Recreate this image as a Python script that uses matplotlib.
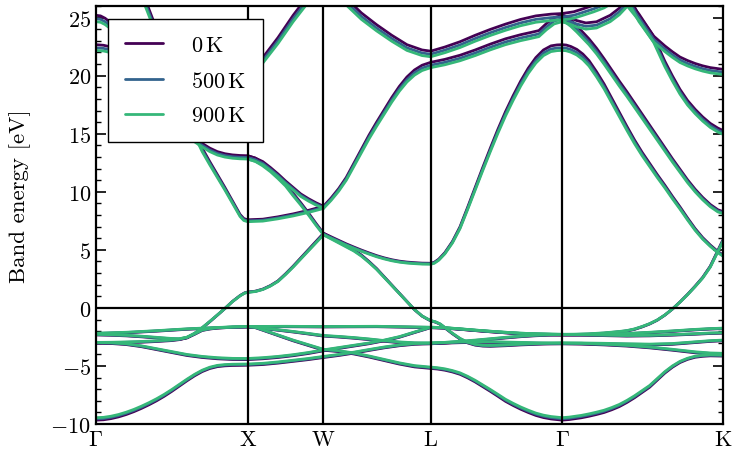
import matplotlib
matplotlib.use("Agg")
import matplotlib.pyplot as plt
from matplotlib.ticker import MultipleLocator

plt.rcParams["font.family"] = "serif"
plt.rcParams["font.serif"] = ["cmr10"]
plt.rcParams["mathtext.fontset"] = "cm"
plt.rcParams["axes.formatter.use_mathtext"] = True
plt.rcParams["axes.unicode_minus"] = True

# -----------------------------
# k-path (fcc, units of 2pi/a)
# -----------------------------
kpt_labels = [r"$\Gamma$", "X", "W", "L", r"$\Gamma$", "K"]
kpt_pos = [0.0, 1.0, 1.5, 2.2071, 3.0731, 4.1338]

# temperatures and bandwidth factor of each one
temp_labels = [r"$0\,\mathrm{K}$", r"$500\,\mathrm{K}$", r"$900\,\mathrm{K}$"]
temp_colors = ["#440154", "#33638d", "#35b779"]
bandwidth = [1.012, 1.0, 0.99]

# -----------------------------
# bands, (k, E) in eV
# -----------------------------
band_s = [(0, -9.55), (0.05, -9.52), (0.1, -9.42), (0.15, -9.27), (0.2, -9.07), (0.25, -8.83),
          (0.3, -8.55), (0.35, -8.24), (0.4, -7.9), (0.45, -7.52), (0.5, -7.1), (0.55, -6.65),
          (0.6, -6.2), (0.65, -5.78), (0.7, -5.42), (0.75, -5.16), (0.8, -5.0), (0.85, -4.93),
          (0.9, -4.9), (1.0, -4.88),
          (1.1, -4.82), (1.2, -4.7), (1.3, -4.55), (1.4, -4.4), (1.5, -4.22),
          (1.6, -4.05), (1.7, -3.85), (1.8, -3.62), (1.9, -3.4), (2.0, -3.22), (2.1, -3.1), (2.2071, -3.05),
          (2.3, -3.0), (2.4, -2.96), (2.5, -2.94), (2.6, -2.94), (2.7, -2.97), (2.8, -3.0), (2.9, -3.03),
          (3.0, -3.05), (3.0731, -3.05),
          (3.2, -3.05), (3.35, -3.08), (3.5, -3.12), (3.65, -3.15), (3.8, -3.1), (3.95, -2.95),
          (4.05, -2.85), (4.1338, -2.8)]

band_d1 = [(0, -3.0), (0.1, -3.03), (0.2, -3.12), (0.3, -3.3), (0.4, -3.55), (0.5, -3.8),
           (0.6, -4.05), (0.7, -4.22), (0.8, -4.33), (0.9, -4.39), (1.0, -4.4),
           (1.1, -4.33), (1.2, -4.22), (1.3, -4.07), (1.4, -3.88), (1.5, -3.65),
           (1.6, -3.45), (1.7, -3.25), (1.8, -3.05), (1.9, -2.8), (2.0, -2.5), (2.1, -2.1), (2.2071, -1.68),
           (2.3, -1.72), (2.4, -1.82), (2.5, -1.93), (2.6, -2.03), (2.7, -2.12), (2.8, -2.2), (2.9, -2.25),
           (3.0, -2.28), (3.0731, -2.3),
           (3.2, -2.3), (3.35, -2.28), (3.5, -2.22), (3.65, -2.12), (3.8, -2.0), (3.95, -1.87),
           (4.05, -1.8), (4.1338, -1.76)]

band_d2 = [(0, -3.0), (0.1, -2.99), (0.2, -2.96), (0.3, -2.92), (0.4, -2.86), (0.5, -2.78),
           (0.55, -2.7), (0.6, -2.55), (0.65, -2.25), (0.7, -1.92), (0.75, -1.8), (0.8, -1.72),
           (0.9, -1.65), (1.0, -1.62),
           (1.05, -1.68), (1.1, -1.9), (1.2, -2.35), (1.3, -2.8), (1.4, -3.2), (1.5, -3.6),
           (1.6, -3.72), (1.7, -3.92), (1.8, -4.18), (1.9, -4.48), (2.0, -4.78), (2.1, -5.02), (2.2071, -5.15),
           (2.25, -5.2), (2.3, -5.3), (2.35, -5.45), (2.4, -5.65), (2.45, -5.95), (2.5, -6.3), (2.55, -6.7),
           (2.6, -7.1), (2.65, -7.52), (2.7, -7.95), (2.75, -8.3), (2.8, -8.62), (2.85, -8.9), (2.9, -9.15),
           (2.95, -9.33), (3.0, -9.45), (3.0731, -9.55),
           (3.12, -9.5), (3.2, -9.35), (3.25, -9.22), (3.3, -9.07), (3.35, -8.9), (3.4, -8.67), (3.45, -8.4),
           (3.5, -8.05), (3.55, -7.65), (3.6, -7.2), (3.65, -6.75), (3.7, -6.15), (3.75, -5.55), (3.8, -5.05),
           (3.85, -4.65), (3.9, -4.38), (3.95, -4.2), (4.0, -4.12), (4.05, -4.08), (4.1338, -4.1)]

band_d3 = [(0, -2.2), (0.2, -2.12), (0.4, -1.98), (0.6, -1.82), (0.8, -1.7), (1.0, -1.62),
           (1.25, -1.6), (1.5, -1.62), (1.85, -1.6), (2.2071, -1.68),
           (2.3, -1.72), (2.4, -1.82), (2.5, -1.93), (2.6, -2.03), (2.7, -2.12), (2.8, -2.2), (2.9, -2.25),
           (3.0, -2.28), (3.0731, -2.3),
           (3.2, -2.32), (3.35, -2.36), (3.5, -2.4), (3.65, -2.38), (3.8, -2.32), (3.95, -2.24),
           (4.05, -2.18), (4.1338, -2.15)]

band_d4 = [(1.0, -1.62), (1.05, -1.65), (1.1, -1.75), (1.2, -1.9), (1.3, -2.05), (1.4, -2.22), (1.5, -2.4),
           (1.6, -2.48), (1.7, -2.58), (1.8, -2.7), (1.9, -2.84), (2.0, -2.96), (2.1, -3.03), (2.2071, -3.05),
           (2.3, -3.0), (2.4, -2.9), (2.5, -2.8), (2.6, -2.68), (2.7, -2.56), (2.8, -2.45), (2.9, -2.37),
           (3.0, -2.32), (3.0731, -2.3),
           (3.15, -2.29), (3.25, -2.25), (3.35, -2.17), (3.45, -2.05), (3.5, -1.97), (3.55, -1.83),
           (3.6, -1.62), (3.65, -1.37), (3.7, -1.05), (3.75, -0.62), (3.8, -0.1), (3.85, 0.5), (3.9, 1.15),
           (3.95, 1.85), (4.0, 2.6), (4.05, 3.55), (4.093, 4.7), (4.1338, 5.8)]

band_p1 = [(0, -2.3), (0.1, -2.33), (0.2, -2.38), (0.3, -2.46), (0.4, -2.56), (0.5, -2.66),
           (0.55, -2.68), (0.6, -2.55), (0.65, -2.2), (0.7, -1.72), (0.75, -1.18), (0.8, -0.62),
           (0.85, -0.05), (0.9, 0.55), (0.95, 1.05), (0.98, 1.28), (1.0, 1.35),
           (1.05, 1.42), (1.1, 1.6), (1.15, 1.9), (1.2, 2.3), (1.25, 2.9), (1.3, 3.55), (1.35, 4.25),
           (1.4, 4.95), (1.45, 5.65), (1.5, 6.35),
           (1.55, 6.05), (1.6, 5.75), (1.65, 5.45), (1.7, 5.18), (1.75, 4.92), (1.8, 4.68), (1.85, 4.45),
           (1.9, 4.26), (1.95, 4.1), (2.0, 3.98), (2.05, 3.9), (2.1, 3.85), (2.15, 3.81), (2.2071, 3.8),
           (2.23, 3.88), (2.26, 4.15), (2.3, 4.7), (2.35, 5.65), (2.4, 6.9), (2.45, 8.55), (2.5, 10.25),
           (2.55, 11.95), (2.6, 13.6), (2.65, 15.2), (2.7, 16.7), (2.75, 18.05), (2.8, 19.3), (2.85, 20.4),
           (2.9, 21.3), (2.95, 21.95), (3.0, 22.3), (3.04, 22.38), (3.0731, 22.4),
           (3.1, 22.37), (3.13, 22.25), (3.17, 22.0), (3.21, 21.6), (3.25, 21.05), (3.3, 20.1), (3.35, 19.05),
           (3.4, 17.85), (3.45, 16.65), (3.5, 15.45), (3.55, 14.3), (3.6, 13.25), (3.65, 12.3), (3.7, 11.35),
           (3.75, 10.45), (3.8, 9.5), (3.85, 8.6), (3.9, 7.65), (3.95, 6.75), (4.0, 5.98), (4.05, 5.35),
           (4.1, 4.8), (4.1338, 4.5)]

band_p2 = [(1.0, 12.95), (1.05, 12.75), (1.1, 12.35), (1.15, 11.85), (1.2, 11.25), (1.25, 10.6),
           (1.3, 9.75), (1.35, 8.95), (1.4, 8.1), (1.45, 7.2), (1.5, 6.35),
           (1.55, 6.0), (1.6, 5.65), (1.65, 5.3), (1.7, 4.95), (1.75, 4.5), (1.8, 3.95), (1.85, 3.35),
           (1.9, 2.65), (1.95, 1.95), (2.0, 1.25), (2.05, 0.55), (2.1, -0.15), (2.15, -0.7), (2.18, -0.92),
           (2.2071, -1.1),
           (2.24, -1.22), (2.27, -1.4), (2.31, -1.8), (2.35, -2.2), (2.4, -2.65), (2.45, -2.98), (2.5, -3.17),
           (2.55, -3.25), (2.6, -3.27), (2.7, -3.22), (2.8, -3.15), (2.9, -3.1), (3.0, -3.06), (3.0731, -3.05),
           (3.2, -3.08), (3.35, -3.15), (3.5, -3.25), (3.65, -3.4), (3.8, -3.6), (3.95, -3.82),
           (4.05, -3.92), (4.1338, -3.95)]

band_u1 = [(0, 24.9), (0.03, 24.85), (0.06, 24.65), (0.1, 24.25), (0.15, 23.5), (0.2, 22.6), (0.3, 20.6),
           (0.4, 18.5), (0.5, 16.7), (0.6, 15.0), (0.65, 14.45), (0.7, 14.0), (0.75, 13.6), (0.8, 13.3),
           (0.85, 13.12), (0.9, 13.02), (0.95, 12.97), (1.0, 12.95),
           (1.05, 12.75), (1.1, 12.45), (1.15, 11.95), (1.2, 11.4), (1.25, 10.8), (1.3, 10.25), (1.35, 9.7),
           (1.4, 9.3), (1.45, 8.95), (1.5, 8.65),
           (1.55, 9.35), (1.6, 10.15), (1.65, 11.1), (1.7, 12.3), (1.75, 13.5), (1.8, 14.7), (1.85, 15.8),
           (1.9, 16.85), (1.95, 17.9), (2.0, 18.85), (2.05, 19.65), (2.1, 20.25), (2.15, 20.65), (2.2071, 20.9),
           (2.3, 21.15), (2.4, 21.5), (2.5, 21.95), (2.6, 22.45), (2.7, 22.9), (2.8, 23.25), (2.87, 23.45),
           (2.92, 23.6), (2.97, 24.2), (3.02, 24.7), (3.0731, 24.9),
           (3.12, 24.7), (3.17, 24.45), (3.23, 24.25), (3.3, 24.35), (3.39, 24.9), (3.45, 25.5), (3.5, 26.2)]

band_u2 = [(0.3, 27.1), (0.4, 23.7), (0.5, 20.3), (0.6, 16.8), (0.65, 15.0), (0.7, 13.6), (0.75, 12.45),
           (0.8, 11.35), (0.85, 10.25), (0.9, 9.1), (0.95, 7.95), (0.975, 7.6), (1.0, 7.5),
           (1.1, 7.55), (1.2, 7.75), (1.3, 8.0), (1.4, 8.3), (1.5, 8.65)]

band_u3 = [(0, 22.4), (0.05, 22.35), (0.1, 22.2), (0.3, 21.6), (0.5, 20.9), (0.7, 20.3), (0.9, 19.85),
           (1.0, 19.7), (1.1, 21.3), (1.2, 23.0), (1.3, 24.9), (1.4, 26.6)]

band_u4 = [(1.6, 27.0), (1.67, 26.1), (1.75, 25.1), (1.85, 24.1), (1.95, 23.2), (2.05, 22.4), (2.15, 21.95),
           (2.2071, 21.85),
           (2.3, 22.2), (2.4, 22.65), (2.5, 23.2), (2.6, 23.7), (2.7, 24.15), (2.8, 24.55), (2.9, 24.85),
           (3.0, 25.0), (3.0731, 25.05),
           (3.15, 25.2), (3.21, 25.45), (3.28, 25.75), (3.35, 26.1), (3.4, 26.5)]

band_k1 = [(3.0731, 24.9), (3.1, 24.8), (3.13, 24.5), (3.17, 24.0), (3.21, 23.45), (3.25, 22.9), (3.3, 22.1),
           (3.35, 21.2), (3.4, 20.25), (3.45, 19.3), (3.5, 18.4), (3.55, 17.45), (3.6, 16.5), (3.65, 15.55),
           (3.7, 14.6), (3.75, 13.65), (3.8, 12.7), (3.85, 11.8), (3.9, 10.9), (3.95, 10.1), (4.0, 9.4),
           (4.05, 8.8), (4.1, 8.35), (4.1338, 8.2)]

band_k2 = [(3.5, 26.8), (3.58, 24.9), (3.675, 23.15), (3.75, 21.0), (3.8, 19.75), (3.85, 18.6), (3.9, 17.65),
           (3.95, 16.9), (4.0, 16.25), (4.05, 15.7), (4.1, 15.3), (4.1338, 15.1)]

band_k3 = [(3.5, 26.3), (3.58, 25.0), (3.675, 23.15), (3.75, 22.3), (3.8, 21.8), (3.85, 21.35), (3.9, 21.05),
           (3.95, 20.8), (4.0, 20.6), (4.05, 20.45), (4.1338, 20.3)]

bands = [band_s, band_d1, band_d2, band_d3, band_d4, band_p1, band_p2,
         band_u1, band_u2, band_u3, band_u4, band_k1, band_k2, band_k3]

# -----------------------------
# figure
# -----------------------------
fig = plt.figure(figsize=(7.32, 4.52), dpi=100)
ax = fig.add_axes([0.1311, 0.0597, 0.8566, 0.9248])

for label, color, f in zip(temp_labels, temp_colors, bandwidth):
    for i, band in enumerate(bands):
        ks = [p[0] for p in band]
        es = [p[1] * f for p in band]
        ax.plot(ks, es, color=color, lw=2.0, label=label if i == 0 else None,
                solid_joinstyle="round", solid_capstyle="round")

for k in kpt_pos[1:-1]:
    ax.axvline(k, color="black", lw=1.6, zorder=3)
ax.axhline(0.0, color="black", lw=1.6, zorder=3)

ax.set_xlim(kpt_pos[0], kpt_pos[-1])
ax.set_ylim(-10, 26)
ax.set_xticks(kpt_pos)
ax.set_xticklabels(kpt_labels)
ax.yaxis.set_major_locator(MultipleLocator(5))
ax.yaxis.set_minor_locator(MultipleLocator(1))
ax.tick_params(axis="x", length=0, labelsize=16, pad=4)
ax.tick_params(axis="y", which="both", direction="in", left=True, right=True, labelsize=16)
ax.tick_params(axis="y", which="major", length=7, width=1.2)
ax.tick_params(axis="y", which="minor", length=3.5, width=1.0)
for s in ax.spines.values():
    s.set_linewidth(1.6)

ax.set_ylabel("Band energy [eV]", fontsize=16.5)
ax.yaxis.set_label_coords(-0.104, 0.547)

leg = ax.legend(loc="upper left", bbox_to_anchor=(0.019, 0.969), borderaxespad=0,
                fontsize=16, fancybox=False, framealpha=1, edgecolor="black",
                handlelength=1.75, handletextpad=1.25, labelspacing=0.69, borderpad=0.75)
leg.get_frame().set_linewidth(1.0)
leg.set_zorder(5)

fig.savefig("out.png", dpi=100)
